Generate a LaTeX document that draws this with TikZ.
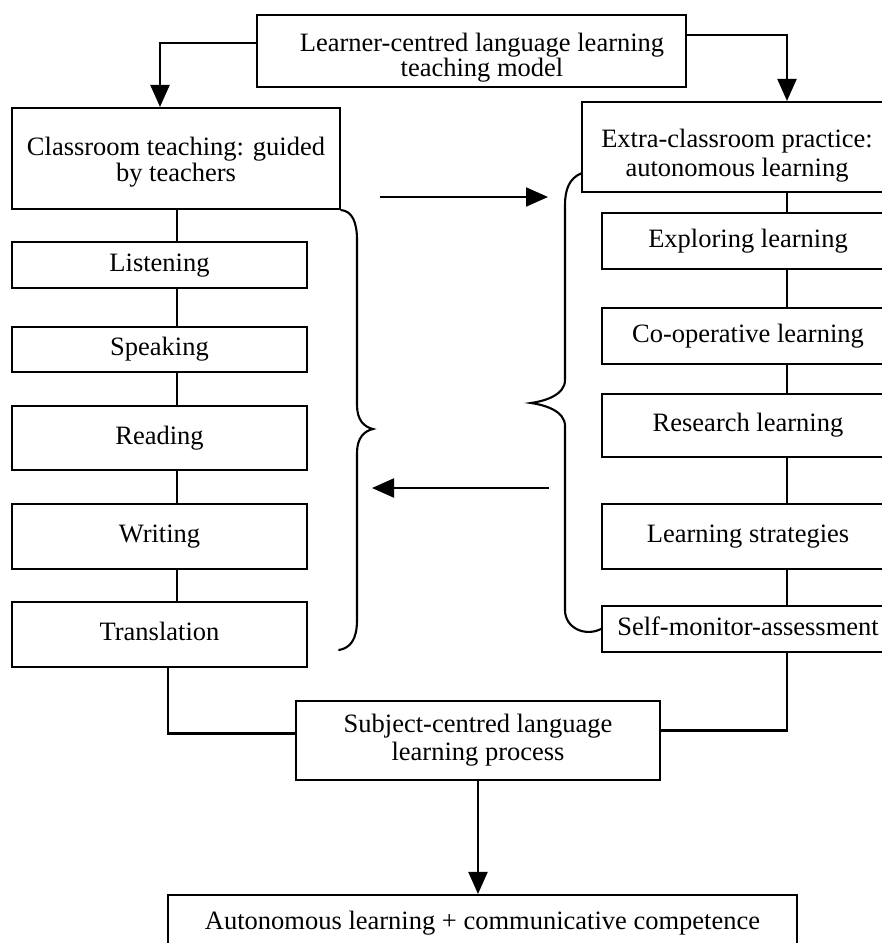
\documentclass[tikz,border=0pt]{standalone}
\usepackage{fontspec}
\setmainfont{Liberation Serif}
\usetikzlibrary{arrows.meta}
\begin{document}
\begin{tikzpicture}[x=1pt,y=-1pt,
  bx/.style={draw,line width=2.1pt,inner sep=0pt,align=center,
    text height=18.5pt,text depth=6.5pt,font=\fontsize{26.5}{30}\selectfont},
  tx/.style={inner sep=0pt,align=center},
  ln/.style={line width=2.1pt},
  brc/.style={line width=2.1pt,line cap=round},
  arr/.style={line width=2.1pt,-{Triangle[length=22pt,width=19pt]}}]
\clip (0,0) rectangle (882,943);
\fill[white] (0,0) rectangle (882,943);
% named coordinates for connector columns
\coordinate (lc) at (177,0);
\coordinate (la) at (160,0);
\coordinate (lb) at (168,0);
\coordinate (rc) at (787,0);
% boxes with two-line texts
\node[bx,minimum width=429pt,minimum height=72pt] (top) at (471.5,51) {};
\node[tx,font=\fontsize{26.5}{23}\selectfont] (topT) at ([xshift=10.5pt,yshift=-7pt]top.center) {Learner-centred language learning\\teaching model};
\node[bx,minimum width=328pt,minimum height=101pt] (class) at (176,158.5) {};
\node[tx,font=\fontsize{26.5}{26}\selectfont] (classT) at ([yshift=-4pt]class.center) {Classroom teaching: guided\\by teachers};
\node[bx,minimum width=310pt,minimum height=90pt] (extra) at (737,147) {};
\node[tx,font=\fontsize{26.5}{29}\selectfont] (extraT) at ([yshift=-9pt]extra.center) {Extra-classroom practice:\\autonomous learning};
\node[bx,minimum width=364pt,minimum height=79pt] (subject) at (478,740.5) {};
\node[tx,font=\fontsize{26.5}{28}\selectfont] (subjT) at ([yshift=0.5pt]subject.center) {Subject-centred language\\learning process};
% single-line boxes
\node[bx,minimum width=295pt,minimum height=46pt] (listen) at (159.5,265) {Listening};
\node[bx,minimum width=295pt,minimum height=45pt] (speak) at (159.5,349.5) {Speaking};
\node[bx,minimum width=295pt,minimum height=64pt] (read) at (159.5,438) {Reading};
\node[bx,minimum width=295pt,minimum height=65pt] (write) at (159.5,536.5) {Writing};
\node[bx,minimum width=295pt,minimum height=65pt] (trans) at (159.5,634.5) {Translation};
\node[bx,minimum width=292pt,minimum height=56pt] (explore) at (748,241) {Exploring learning};
\node[bx,minimum width=292pt,minimum height=56pt] (coop) at (748,336) {Co-operative learning};
\node[bx,minimum width=292pt,minimum height=63pt] (research) at (748,425.5) {Research learning};
\node[bx,minimum width=292pt,minimum height=65pt] (strat) at (748,536.5) {Learning strategies};
\node[bx,minimum width=292pt,minimum height=46pt] (self) at (748,629) {Self-monitor-assessment};
\node[bx,minimum width=629pt,minimum height=56pt] (final) at (482.5,923) {Autonomous learning + communicative competence};
% top arrows
\draw[arr] ([yshift=8pt]top.west) -| (la |- class.north);
\draw[arr] ([yshift=16pt]top.east) -| (rc |- extra.north);
% left column connectors
\draw[ln] (lc |- class.south) -- (lc |- listen.north);
\draw[ln] (lc |- listen.south) -- (lc |- speak.north);
\draw[ln] (lc |- speak.south) -- (lc |- read.north);
\draw[ln] (lc |- read.south) -- (lc |- write.north);
\draw[ln] (lc |- write.south) -- (lc |- trans.north);
% right column connectors
\draw[ln] (rc |- extra.south) -- (rc |- explore.north);
\draw[ln] (rc |- explore.south) -- (rc |- coop.north);
\draw[ln] (rc |- coop.south) -- (rc |- research.north);
\draw[ln] (rc |- research.south) -- (rc |- strat.north);
\draw[ln] (rc |- strat.south) -- (rc |- self.north);
% to subject
\draw[ln] (lb |- trans.south) |- ([yshift=7pt]subject.west);
\draw[ln] ([yshift=10pt]subject.east) -| (rc |- self.south);
\draw[arr] (subject.south) -- (subject.south |- final.north);
% middle arrows
\coordinate (a1) at (380,197);
\coordinate (a2) at (548,197);
\coordinate (b1) at (549,488);
\coordinate (b2) at (372,488);
\draw[arr] (a1) -- (a2);
\draw[arr] (b1) -- (b2);
% braces
\draw[brc] (class.south east) .. controls (352,211) and (357,222) .. (357,240) -- (357,405)
  .. controls (357,420) and (364,427) .. (373,429)
  .. controls (364,431) and (357,438) .. (357,453) -- (357,620)
  .. controls (357,640) and (350,648) .. (339,650);
\draw[brc] (582,173) .. controls (569,178) and (565,190) .. (565,205) -- (565,380)
  .. controls (565,395) and (545,401) .. (531,403)
  .. controls (545,405) and (565,411) .. (565,426) -- (565,610)
  .. controls (565,628) and (585,637) .. (self.west);
\end{tikzpicture}
\end{document}
